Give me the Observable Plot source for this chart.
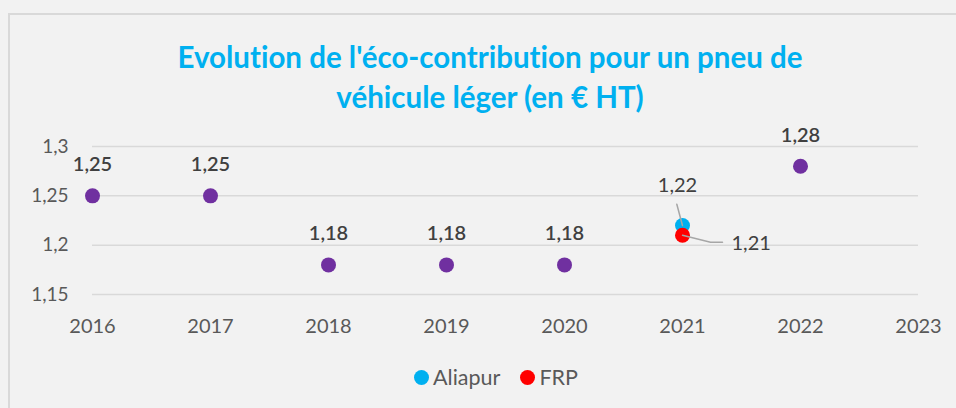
<!DOCTYPE html>
<html>
<head>
<meta charset="utf-8">
<script src="https://cdn.jsdelivr.net/npm/d3@7"></script>
<script src="https://cdn.jsdelivr.net/npm/@observablehq/plot@0.6"></script>
<style>
  html, body { margin: 0; padding: 0; background: #f2f2f2; width: 956px; height: 408px; overflow: hidden; }
  #frame { position: absolute; left: 8px; top: 13px; width: 1000px; height: 500px;
           border-top: 2px solid #d9d9d9; border-left: 2px solid #d9d9d9; box-sizing: border-box; }
  #chart { position: absolute; left: 0; top: 0; width: 956px; }
  #title { margin-top: 37px; height: 80px; text-align: center; font-family: Lato, sans-serif; font-weight: bold;
           font-size: 29.5px; line-height: 40px; color: #00b0f0; padding-left: 24px; font-variant-ligatures: none; }
  #title div { white-space: nowrap; }
  svg { display: block; }
  #legend { display: flex; justify-content: center; align-items: center; margin-top: 25px; height: 20px;
            font-family: Lato, sans-serif; font-size: 21.5px; color: #595959; padding-left: 36px; }
  .item { display: flex; align-items: center; margin: 0 10px; }
  .sw { width: 15px; height: 15px; border-radius: 50%; margin-right: 4px; }
</style>
</head>
<body>
<div id="frame"></div>
<div id="chart">
  <div id="title"></div>
  <div id="plot"></div>
  <div id="legend"></div>
</div>
<script>
const titleLines = ["Evolution de l'éco-contribution pour un pneu de", "véhicule léger (en € HT)"];
const commonYears = [2016, 2017, 2018, 2019, 2020, 2022];
const commonValues = [1.25, 1.25, 1.18, 1.18, 1.18, 1.28];
const aliapurYears = [2021];
const aliapurValues = [1.22];
const frpYears = [2021];
const frpValues = [1.21];
const xTicks = [2016, 2017, 2018, 2019, 2020, 2021, 2022, 2023];
const yTicks = [1.15, 1.2, 1.25, 1.3];
const seriesNames = ["Aliapur", "FRP"];
const seriesColors = ["#00b0f0", "#ff0000"];
const commonColor = "#7030a0";

const fmt = v => String(v).replace(".", ",");
const common = commonYears.map((y, i) => ({year: y, value: commonValues[i]}));
const aliapur = aliapurYears.map((y, i) => ({year: y, value: aliapurValues[i]}));
const frp = frpYears.map((y, i) => ({year: y, value: frpValues[i]}));

const leaderUp = { draw(ctx, l) { ctx.moveTo(0, 0); ctx.lineTo(0, -l); } };
const leaderElbow = { draw(ctx) { ctx.moveTo(0, 0); ctx.lineTo(28, 7); ctx.lineTo(40, 7); } };

const plot = Plot.plot({
  width: 956,
  height: 225,
  marginLeft: 92,
  marginRight: 38,
  marginTop: 29,
  marginBottom: 48,
  style: { background: "transparent", fontFamily: "Lato, sans-serif" },
  x: { domain: [2016, 2023], ticks: xTicks, tickFormat: d => String(d), label: null },
  y: { domain: [1.15, 1.3], ticks: yTicks, tickFormat: fmt, label: null },
  marks: [
    Plot.gridY(yTicks, { stroke: "#d9d9d9", strokeOpacity: 1, strokeWidth: 1.5 }),
    Plot.axisX(xTicks, { tickSize: 0, tickPadding: 24, fontSize: 20, fill: "#595959", tickFormat: d => String(d), label: null }),
    Plot.axisY(yTicks, { tickSize: 0, tickPadding: 24, fontSize: 19, fill: "#595959", tickFormat: fmt, label: null }),
    Plot.dot(common, { x: "year", y: "value", r: 7.5, fill: commonColor }),
    Plot.text(common, { x: "year", y: "value", text: d => fmt(d.value), dy: -31, fontSize: 20, fontWeight: 600, fill: "#404040" }),
    Plot.dot(aliapur, { x: "year", y: "value", r: 7.5, fill: seriesColors[0] }),
    Plot.vector(aliapur, { x: "year", y: "value", length: 22, rotate: -15, anchor: "start", shape: leaderUp, stroke: "#a6a6a6", strokeWidth: 1.5 }),
    Plot.text(aliapur, { x: "year", y: "value", text: d => fmt(d.value), dx: -5, dy: -40, fontSize: 20, fill: "#404040" }),
    Plot.dot(frp, { x: "year", y: "value", r: 7.5, fill: seriesColors[1] }),
    Plot.vector(frp, { x: "year", y: "value", length: 1, anchor: "start", shape: leaderElbow, stroke: "#a6a6a6", strokeWidth: 1.5 }),
    Plot.text(frp, { x: "year", y: "value", text: d => fmt(d.value), dx: 49, dy: 8, textAnchor: "start", fontSize: 20, fill: "#404040" })
  ]
});
document.getElementById("plot").appendChild(plot);

const title = document.getElementById("title");
titleLines.forEach(t => { const d = document.createElement("div"); d.textContent = t; title.appendChild(d); });

const legend = document.getElementById("legend");
seriesNames.forEach((n, i) => {
  const it = document.createElement("div"); it.className = "item";
  const sw = document.createElement("div"); sw.className = "sw"; sw.style.background = seriesColors[i];
  const lb = document.createElement("span"); lb.textContent = n;
  it.appendChild(sw); it.appendChild(lb); legend.appendChild(it);
});
</script>
</body>
</html>
